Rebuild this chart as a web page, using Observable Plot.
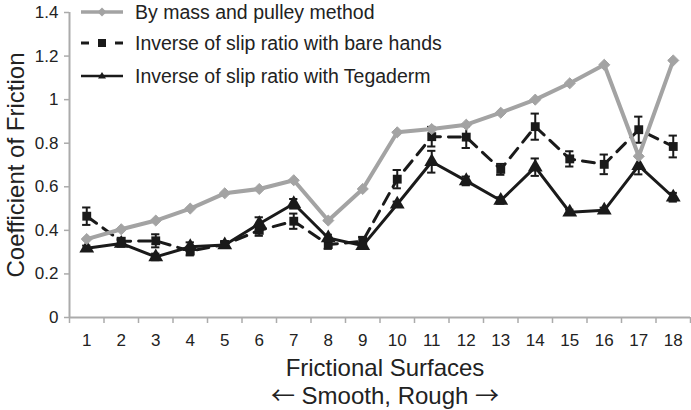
<!DOCTYPE html>
<html>
<head>
<meta charset="utf-8">
<script src="https://cdn.jsdelivr.net/npm/d3@7"></script>
<script src="https://cdn.jsdelivr.net/npm/@observablehq/plot@0.6"></script>
<style>
  html, body { margin: 0; padding: 0; background: #fff; }
  #wrap { position: relative; width: 691px; height: 410px; font-family: "Liberation Sans", Arial, sans-serif; }
  #legend { position: absolute; left: 81px; top: 0px; font-size: 19.5px; color: #222; }
  .row { position: absolute; left: 0; height: 24px; display: flex; align-items: center; white-space: nowrap; }
  .row svg { margin-right: 12px; }
  #sub { position: absolute; left: 74px; width: 622px; top: 381px; text-align: center; font-size: 24px; line-height: 25px; color: #222; white-space: nowrap; }
  #sub .arr { font-family: "Noto Sans CJK SC", "DejaVu Sans", sans-serif; font-size: 24px; }
</style>
</head>
<body>
<div id="wrap"><div id="legend"></div><div id="sub"></div></div>
<script>
const categories = [1,2,3,4,5,6,7,8,9,10,11,12,13,14,15,16,17,18];
const yTicks = [0, 0.2, 0.4, 0.6, 0.8, 1, 1.2, 1.4];
const seriesNames = ["By mass and pulley method", "Inverse of slip ratio with bare hands", "Inverse of slip ratio with Tegaderm"];
const massPulley = [0.36,0.405,0.445,0.50,0.57,0.59,0.63,0.445,0.59,0.85,0.865,0.885,0.94,1.0,1.075,1.16,0.74,1.18];
const bareHands  = [0.465,0.35,0.352,0.305,0.335,0.40,0.442,0.335,0.35,0.635,0.83,0.828,0.68,0.876,0.728,0.703,0.862,0.785];
const bareErr    = [0.04,0.012,0.03,0.02,0.015,0.025,0.035,0.02,0.02,0.042,0.045,0.05,0.025,0.06,0.035,0.045,0.06,0.05];
const tegaderm   = [0.318,0.34,0.278,0.325,0.333,0.43,0.522,0.365,0.33,0.52,0.715,0.627,0.537,0.69,0.483,0.492,0.697,0.552];
const tegErr     = [0.012,0.015,0.015,0.02,0.012,0.03,0.022,0.015,0.012,0.012,0.05,0.02,0.015,0.04,0.012,0.012,0.04,0.02];
const xLabel = "Frictional Surfaces";
const xSubLabel = ["\u2190", "Smooth, Rough", "\u2192"];
const yLabel = "Coefficient of Friction";

const gray = "#a3a3a3";
const axisGray = "#ababab";
const ink = "#1a1a1a";

const mp = categories.map((c, i) => ({x: c, y: massPulley[i]}));
const bh = categories.map((c, i) => ({x: c, y: bareHands[i], e: bareErr[i]}));
const tg = categories.map((c, i) => ({x: c, y: tegaderm[i], e: tegErr[i]}));
const boundaries = [categories[0] - 0.5, ...categories.map(c => c + 0.5)];
const capHalf = 0.12;

function errMarks(data) {
  return [
    Plot.ruleX(data, {x: "x", y1: d => d.y - d.e, y2: d => d.y + d.e, stroke: ink, strokeWidth: 2}),
    Plot.ruleY(data, {y: d => d.y - d.e, x1: d => d.x - capHalf, x2: d => d.x + capHalf, stroke: ink, strokeWidth: 2}),
    Plot.ruleY(data, {y: d => d.y + d.e, x1: d => d.x - capHalf, x2: d => d.x + capHalf, stroke: ink, strokeWidth: 2})
  ];
}

const chart = Plot.plot({
  width: 691, height: 410,
  marginLeft: 69, marginRight: 1, marginTop: 12, marginBottom: 93,
  style: {fontFamily: "'Liberation Sans', Arial, sans-serif", fontSize: "17px", color: ink, background: "#fff"},
  x: {type: "linear", domain: [boundaries[0], boundaries[boundaries.length - 1]], axis: null},
  y: {domain: [0, 1.4], axis: null},
  marks: [
    Plot.axisY({ticks: yTicks, tickSize: 5, tickPadding: 6, stroke: axisGray, strokeWidth: 1.5, fill: "#222", label: null, tickFormat: d => String(d)}),
    Plot.axisX({ticks: boundaries, tickSize: 6, stroke: axisGray, strokeWidth: 1.5, tickFormat: () => "", label: null}),
    Plot.axisX({ticks: categories, tickSize: 0, tickPadding: 16, fill: "#222", label: null, tickFormat: d => String(d)}),
    Plot.ruleX([boundaries[0]], {stroke: axisGray, strokeWidth: 2}),
    Plot.ruleY([0], {stroke: axisGray, strokeWidth: 2}),
    // bare hands (dashed)
    ...errMarks(bh),
    Plot.line(bh, {x: "x", y: "y", stroke: ink, strokeWidth: 3, strokeDasharray: "12,8"}),
    Plot.dot(bh, {x: "x", y: "y", symbol: "square", r: 5, fill: ink, stroke: null}),
    // tegaderm (solid)
    ...errMarks(tg),
    Plot.line(tg, {x: "x", y: "y", stroke: ink, strokeWidth: 3}),
    Plot.dot(tg, {x: "x", y: "y", symbol: "triangle", r: 5.5, fill: ink, stroke: null}),
    // mass and pulley (gray)
    Plot.line(mp, {x: "x", y: "y", stroke: gray, strokeWidth: 4}),
    Plot.dot(mp, {x: "x", y: "y", symbol: "diamond2", r: 5, fill: gray, stroke: gray, strokeWidth: 1}),
    // axis titles
    Plot.text([yLabel], {frameAnchor: "left", textAnchor: "middle", rotate: -90, dx: -53, fontSize: 24, fill: "#222"}),
    Plot.text([xLabel], {frameAnchor: "bottom", lineAnchor: "bottom", dy: 58, dx: 5, fontSize: 24, fill: "#222"})
  ]
});
document.getElementById("wrap").prepend(chart);

// second x label line with arrows
document.getElementById("sub").innerHTML =
  `<span class="arr">${xSubLabel[0]}</span> ${xSubLabel[1]} <span class="arr">${xSubLabel[2]}</span>`;

// legend
const legend = document.getElementById("legend");
const rowsY = [0, 31, 64];
const samples = [
  `<svg width="42" height="14"><line x1="0" y1="7" x2="42" y2="7" stroke="${gray}" stroke-width="3.5"/><path d="M21,2.5L25.5,7L21,11.5L16.5,7Z" fill="${gray}"/></svg>`,
  `<svg width="42" height="14"><line x1="0" y1="7" x2="8" y2="7" stroke="${ink}" stroke-width="3"/><rect x="17" y="3" width="8" height="8" fill="${ink}"/><line x1="34" y1="7" x2="42" y2="7" stroke="${ink}" stroke-width="3"/></svg>`,
  `<svg width="42" height="14"><line x1="0" y1="7" x2="42" y2="7" stroke="${ink}" stroke-width="2.5"/><path d="M21,3L25,9.5L17,9.5Z" fill="${ink}"/></svg>`
];
seriesNames.forEach((name, i) => {
  const row = document.createElement("div");
  row.className = "row";
  row.style.top = rowsY[i] + "px";
  row.innerHTML = samples[i] + `<span>${name}</span>`;
  legend.appendChild(row);
});
</script>
</body>
</html>
